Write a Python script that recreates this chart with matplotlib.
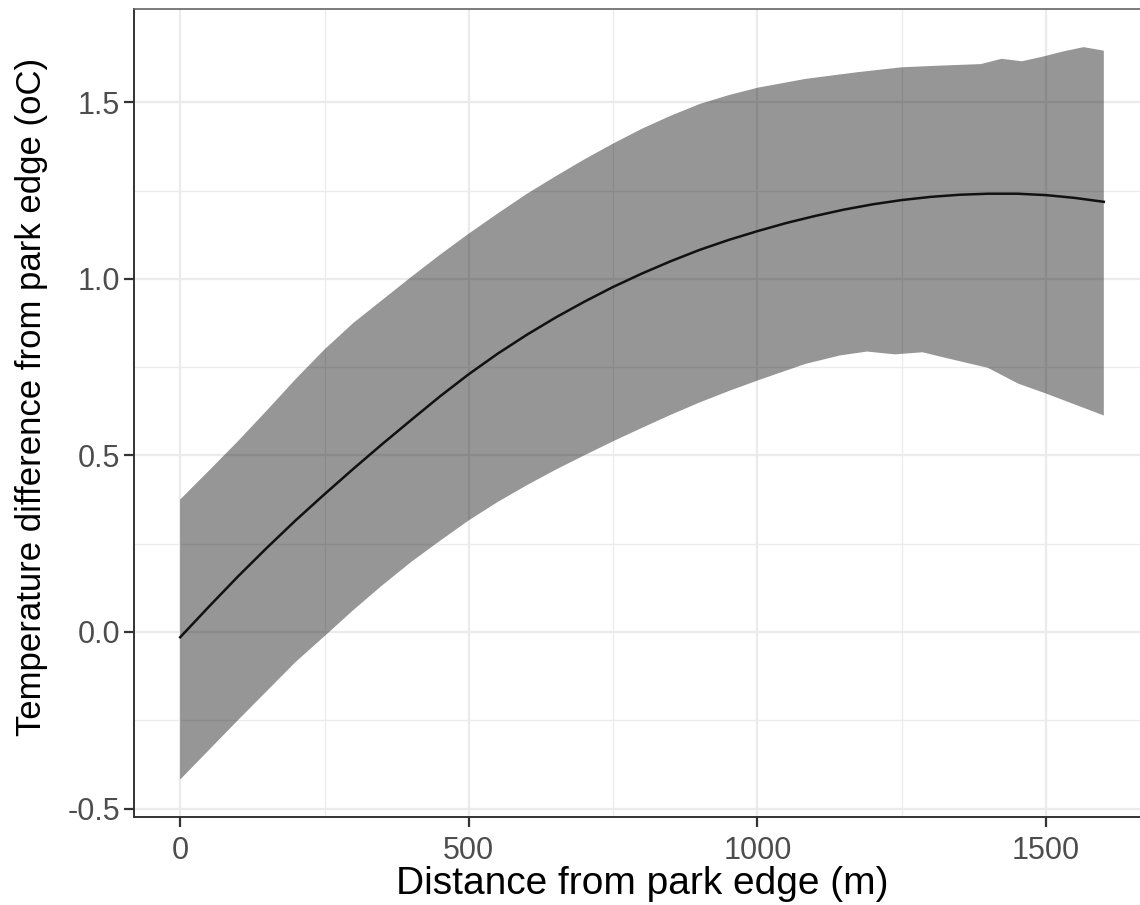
import matplotlib
matplotlib.use("Agg")
import matplotlib.pyplot as plt

plt.rcParams["font.family"] = ["Liberation Sans", "DejaVu Sans"]

# fitted curve (m, oC)
dist = [0, 50, 100, 150, 200, 250, 300, 350, 400, 450, 500, 550, 600, 650, 700,
        750, 800, 850, 900, 950, 1000, 1050, 1100, 1150, 1200, 1250, 1300,
        1350, 1400, 1450, 1500, 1550, 1600]
fit = [-0.015, 0.072, 0.157, 0.238, 0.316, 0.39, 0.462, 0.532, 0.60, 0.667,
       0.73, 0.788, 0.841, 0.89, 0.935, 0.977, 1.015, 1.05, 1.082, 1.11, 1.135,
       1.158, 1.178, 1.196, 1.211, 1.223, 1.232, 1.238, 1.241, 1.241, 1.237,
       1.229, 1.218]

# upper confidence limit
upper_x = [0, 50, 100, 150, 200, 250, 300, 350, 400, 450, 500, 550, 600, 650,
           700, 750, 800, 850, 900, 950, 1000, 1083, 1173, 1250, 1321, 1387,
           1423, 1458, 1494, 1530, 1565, 1600]
upper = [0.375, 0.457, 0.54, 0.627, 0.716, 0.80, 0.875, 0.94, 1.005, 1.068,
         1.128, 1.185, 1.24, 1.29, 1.338, 1.383, 1.425, 1.462, 1.495, 1.52,
         1.541, 1.566, 1.585, 1.599, 1.604, 1.608, 1.623, 1.616, 1.629, 1.644,
         1.656, 1.646]

# lower confidence limit
lower_x = [0, 100, 200, 250, 300, 350, 400, 450, 500, 550, 600, 650, 700, 750,
           800, 850, 900, 950, 1000, 1083, 1143, 1190, 1238, 1286, 1321, 1399,
           1452, 1500, 1600]
lower = [-0.418, -0.25, -0.085, -0.012, 0.062, 0.132, 0.198, 0.258, 0.316,
         0.368, 0.415, 0.459, 0.50, 0.54, 0.578, 0.615, 0.65, 0.682, 0.712,
         0.759, 0.783, 0.794, 0.786, 0.792, 0.778, 0.748, 0.703, 0.675, 0.613]

X_MAJOR = [0, 500, 1000, 1500]
X_MINOR = [250, 750, 1250]
Y_MAJOR = [-0.5, 0.0, 0.5, 1.0, 1.5]
Y_MINOR = [-0.25, 0.25, 0.75, 1.25]

GRID = "#ebebeb"
TICK_TXT = "#4d4d4d"
BORDER = "#333333"

fig = plt.figure(figsize=(11.4, 9.05), dpi=100, facecolor="white")
ax = fig.add_axes([134 / 1140, 88 / 905, 1016 / 1140, 808 / 905])
ax.set_facecolor("white")

for v in X_MINOR:
    ax.axvline(v, color=GRID, lw=0.9, zorder=0)
for v in Y_MINOR:
    ax.axhline(v, color=GRID, lw=0.9, zorder=0)
for v in X_MAJOR:
    ax.axvline(v, color=GRID, lw=1.6, zorder=0)
for v in Y_MAJOR:
    ax.axhline(v, color=GRID, lw=1.6, zorder=0)

band_x = list(upper_x) + list(lower_x[::-1])
band_y = list(upper) + list(lower[::-1])
ax.fill(band_x, band_y, color="black", alpha=0.41, lw=0, zorder=1)
ax.plot(dist, fit, color="#111111", lw=1.8, zorder=2)

ax.set_xlim(-80, 1680)
ax.set_ylim(-0.524, 1.764)
ax.set_xticks(X_MAJOR, [str(v) for v in X_MAJOR])
ax.set_yticks(Y_MAJOR, ["-0.5", "0.0", "0.5", "1.0", "1.5"])
ax.tick_params(axis="both", length=7, width=1.6, color=BORDER,
               labelsize=22, labelcolor=TICK_TXT)
ax.tick_params(axis="x", pad=7)
ax.tick_params(axis="y", pad=3)

ax.set_xlabel("Distance from park edge (m)", fontsize=28, color="black", labelpad=0)
ax.set_ylabel("Temperature difference from park edge (oC)", fontsize=25,
              color="black")
ax.yaxis.set_label_coords(-0.085, 0.52)

for s in ["left", "bottom"]:
    ax.spines[s].set_color(BORDER)
    ax.spines[s].set_linewidth(1.4)
ax.spines["top"].set_color("#666666")
ax.spines["top"].set_linewidth(1.2)
ax.spines["right"].set_visible(False)

fig.savefig("out.png", dpi=100, facecolor="white")
